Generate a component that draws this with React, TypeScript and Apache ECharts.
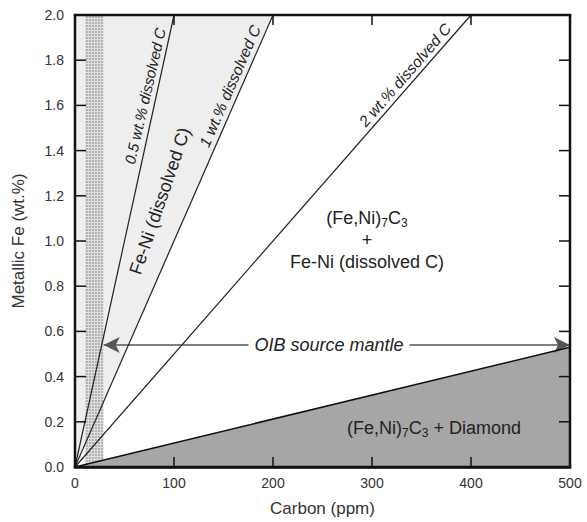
import React, { useEffect, useRef } from 'react';
import * as echarts from 'echarts';

// ---- data ----
const xTicks = [0, 100, 200, 300, 400, 500];
const yTicks = [0, 0.2, 0.4, 0.6, 0.8, 1.0, 1.2, 1.4, 1.6, 1.8, 2.0];
const dissolvedCNames = ['0.5 wt.% dissolved C', '1 wt.% dissolved C', '2 wt.% dissolved C'];
// carbon (ppm) at which each dissolved-C line reaches 2.0 wt.% metallic Fe
const dissolvedCEndCarbon = [100, 200, 400];
const dissolvedCEndFe = [2.0, 2.0, 2.0];
const feNiRegion = [[0, 0], [0, 2.0], [200, 2.0]];
const diamondRegion = [[0, 0], [500, 0.53], [500, 0]];
const diamondBoundary = [[0, 0], [500, 0.53]];
const oibBand = [[10, 0, 29, 2.0]];
const oibArrowFe = 0.54;
const oibArrowCarbon = [29, 500];

const FONT = '"Liberation Sans", Arial, Helvetica, sans-serif';

export default function App() {
  const ref = useRef<HTMLDivElement>(null);
  useEffect(() => {
    if (!ref.current) return;
    const chart = echarts.init(ref.current, undefined, { renderer: 'svg' });
    const xMin = xTicks[0];
    const xMax = xTicks[xTicks.length - 1];
    const yMin = yTicks[0];
    const yMax = yTicks[yTicks.length - 1];

    const polygonSeries = (pts: number[][], fill: string, z: number) => ({
      type: 'custom',
      silent: true,
      z,
      data: pts,
      encode: { x: 0, y: 1 },
      renderItem: (params: any, api: any) => {
        if (params.dataIndex !== 0) return null;
        const points = pts.map((p) => api.coord(p));
        return { type: 'polygon', shape: { points }, style: { fill } };
      },
    });
    const lineSeries = dissolvedCEndCarbon.map((x, i) => ({
      type: 'line',
      name: dissolvedCNames[i],
      data: [[0, 0], [x, dissolvedCEndFe[i]]],
      symbol: 'none',
      silent: true,
      z: 5,
      lineStyle: { color: '#222', width: 1.2 },
    }));
    const rotText = (text: string, x: number, y: number, deg: number, size: number, italic: boolean) => ({
      type: 'text',
      x,
      y,
      rotation: (deg * Math.PI) / 180,
      z: 100,
      style: {
        text,
        fontSize: size,
        fontFamily: FONT,
        fontStyle: italic ? 'italic' : 'normal',
        fill: '#222',
        align: 'center',
        verticalAlign: 'middle',
        textAlign: 'center',
        textVerticalAlign: 'middle',
      },
    });
    const richSub = {
      n: { fontSize: 18, fontFamily: FONT, fill: '#222', color: '#222', lineHeight: 22 },
      s: { fontSize: 12, fontFamily: FONT, fill: '#222', color: '#222', lineHeight: 12, verticalAlign: 'bottom' },
    };
    const richText = (text: string, x: number, y: number) => ({
      type: 'text',
      x,
      y,
      z: 100,
      style: {
        text,
        rich: richSub,
        fontSize: 18,
        fontFamily: FONT,
        fill: '#222',
        align: 'center',
        verticalAlign: 'middle',
        textAlign: 'center',
        textVerticalAlign: 'middle',
      },
    });

    chart.setOption({
      animation: false,
      grid: { left: 75, right: 17, top: 15, bottom: 54 },
      xAxis: {
        type: 'value', min: xMin, max: xMax, interval: 100,
        axisLine: { show: true, onZero: false, lineStyle: { color: '#111', width: 2.5 } },
        axisTick: { show: false }, splitLine: { show: false },
        axisLabel: { fontSize: 14, color: '#333', fontFamily: FONT, margin: 9 },
        name: 'Carbon (ppm)', nameLocation: 'middle', nameGap: 33,
        nameTextStyle: { fontSize: 17, color: '#333', fontFamily: FONT },
      },
      yAxis: {
        type: 'value', min: yMin, max: yMax, interval: 0.2,
        axisLine: { show: true, onZero: false, lineStyle: { color: '#111', width: 2.5 } },
        axisTick: { show: false }, splitLine: { show: false },
        axisLabel: { fontSize: 14, color: '#333', fontFamily: FONT, margin: 11, formatter: (v: number) => v.toFixed(1) },
        name: 'Metallic Fe (wt.%)', nameLocation: 'middle', nameGap: 48,
        nameTextStyle: { fontSize: 17, color: '#333', fontFamily: FONT },
      },
      series: [
        polygonSeries(feNiRegion, '#eeeeee', 1),
        {
          type: 'custom',
          silent: true,
          z: 2,
          data: oibBand,
          encode: { x: [0, 2], y: [1, 3] },
          renderItem: (params: any, api: any) => {
            const tl = api.coord([api.value(0), api.value(3)]);
            const br = api.coord([api.value(2), api.value(1)]);
            const children: any[] = [
              { type: 'rect', shape: { x: tl[0], y: tl[1], width: br[0] - tl[0], height: br[1] - tl[1] }, style: { fill: '#e0e0e0' } },
            ];
            for (let y = tl[1] + 1; y < br[1] - 1; y += 3) {
              for (let x = tl[0] + 1; x < br[0] - 1; x += 3) {
                children.push({ type: 'rect', shape: { x, y, width: 2, height: 2 }, style: { fill: '#b0b0b0' } });
              }
            }
            return { type: 'group', children };
          },
        },
        polygonSeries(diamondRegion, '#a6a6a6', 3),
        ...lineSeries,
        {
          type: 'line',
          name: 'diamond boundary',
          data: diamondBoundary,
          symbol: 'none',
          silent: true,
          z: 6,
          lineStyle: { color: '#111', width: 1.6 },
          markLine: {
            silent: true,
            symbol: ['arrow', 'arrow'],
            symbolSize: [12, 16],
            label: { show: false },
            lineStyle: { color: '#555', width: 1.5, type: 'solid' },
            data: [[{ coord: [oibArrowCarbon[0], oibArrowFe] }, { coord: [oibArrowCarbon[1], oibArrowFe] }]],
          },
        },
      ],
    });

    // frame and inward ticks, positioned through the chart's own scales
    const px = (x: number, y: number) => chart.convertToPixel({ xAxisIndex: 0, yAxisIndex: 0 }, [x, y]) as number[];
    const [x0, y0] = px(xMin, yMin);
    const [x1, y1] = px(xMax, yMax);
    const frameEls: any[] = [];
    const tickLine = (ax: number, ay: number, bx: number, by: number) => ({
      type: 'line',
      z: 90,
      silent: true,
      shape: { x1: ax, y1: ay, x2: bx, y2: by },
      style: { stroke: '#111', lineWidth: 1.5, fill: null },
    });
    xTicks.slice(1, -1).forEach((t) => {
      const xp = px(t, yMin)[0];
      frameEls.push(tickLine(xp, y0, xp, y0 - 10));
      frameEls.push(tickLine(xp, y1, xp, y1 + 10));
    });
    yTicks.slice(1, -1).forEach((t) => {
      const yp = px(xMin, t)[1];
      frameEls.push(tickLine(x0, yp, x0 + 11, yp));
      frameEls.push(tickLine(x1, yp, x1 - 11, yp));
    });
    const edge = (ax: number, ay: number, bx: number, by: number) => ({
      type: 'line',
      z: 91,
      silent: true,
      shape: { x1: ax, y1: ay, x2: bx, y2: by },
      style: { stroke: '#111', lineWidth: 2.5, fill: null },
    });
    frameEls.push(edge(x0 - 1.25, y0, x1 + 1.25, y0));
    frameEls.push(edge(x0 - 1.25, y1, x1 + 1.25, y1));
    frameEls.push(edge(x0, y0, x0, y1));
    frameEls.push(edge(x1, y0, x1, y1));

    chart.setOption({
      graphic: [
        ...frameEls,
        rotText('0.5 wt.% dissolved C', 145, 96, 77, 15, true),
        rotText('1 wt.% dissolved C', 230, 86, 66.4, 15.5, true),
        rotText('2 wt.% dissolved C', 405, 75, 48.8, 15.5, true),
        rotText('Fe-Ni (dissolved C)', 160, 201, 71, 18, false),
        richText('{n|(Fe,Ni)}{s|7}{n|C}{s|3}', 367, 218),
        rotText('+', 367, 240, 0, 18, false),
        rotText('Fe-Ni (dissolved C)', 367, 262, 0, 18, false),
        richText('{n|(Fe,Ni)}{s|7}{n|C}{s|3}{n| + Diamond}', 434, 428),
        {
          type: 'text',
          x: 329,
          y: 345,
          z: 100,
          style: {
            text: 'OIB source mantle',
            fontSize: 18,
            fontFamily: FONT,
            fontStyle: 'italic',
            fill: '#222',
            backgroundColor: '#fff',
            padding: [2, 6],
            align: 'center',
            verticalAlign: 'middle',
            textAlign: 'center',
            textVerticalAlign: 'middle',
          },
        },
      ],
    });
    return () => chart.dispose();
  }, []);
  return <div ref={ref} style={{ position: 'fixed', left: 0, top: 0, width: 587, height: 522, background: '#fff' }} />;
}
